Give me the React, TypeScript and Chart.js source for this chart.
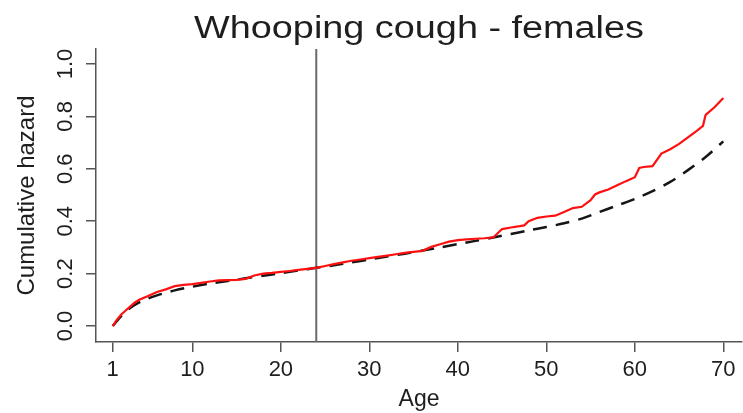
import React, { useEffect, useRef } from "react";
import { Chart, registerables } from "chart.js";

Chart.register(...registerables);

const chartTitle = "Whooping cough - females";
const xTitle = "Age";
const yTitle = "Cumulative hazard";
const xTicks = [1, 10, 20, 30, 40, 50, 60, 70];
const yTicks = [0, 0.2, 0.4, 0.6, 0.8, 1.0];
const cutoffAge = 24;

// Observed (Nelson-Aalen style) cumulative hazard - red
const observedAges = [
  1, 1.5, 2, 2.5, 3, 3.5, 4, 5, 6, 7, 8, 9, 10, 11, 12, 13, 14, 15, 16, 17, 18, 19, 20,
  21, 22, 23, 24, 25, 26, 27, 28, 29, 30, 31, 32, 33, 34, 35, 36, 37, 38, 39, 40, 41, 42,
  43, 44, 45, 46, 47, 47.5, 48, 49, 50, 51, 52, 53, 54, 55, 55.5, 56, 57, 58, 59, 60,
  60.5, 61, 62, 63, 64, 65, 66, 67, 67.7, 68, 69, 70,
];
const observedHazard = [
  0.0, 0.025, 0.045, 0.06, 0.075, 0.09, 0.1, 0.115, 0.13, 0.14, 0.152, 0.157, 0.16, 0.165,
  0.17, 0.174, 0.175, 0.176, 0.18, 0.193, 0.2, 0.203, 0.207, 0.21, 0.214, 0.218, 0.222,
  0.229, 0.236, 0.243, 0.249, 0.254, 0.259, 0.264, 0.269, 0.274, 0.279, 0.283, 0.287,
  0.302, 0.312, 0.322, 0.328, 0.331, 0.333, 0.335, 0.338, 0.37, 0.376, 0.381, 0.384, 0.4,
  0.413, 0.418, 0.421, 0.435, 0.45, 0.455, 0.48, 0.502, 0.51, 0.521, 0.537, 0.553, 0.568,
  0.603, 0.607, 0.61, 0.658, 0.675, 0.695, 0.72, 0.745, 0.764, 0.806, 0.835, 0.87,
];

// Fitted (smooth) cumulative hazard - black dashed
const fittedAges = [
  1, 2, 3, 4, 5, 6, 7, 8, 10, 12, 14, 16, 18, 20, 22, 24, 26, 28, 30, 32, 34, 36, 38, 40,
  42, 44, 46, 48, 50, 52, 54, 56, 58, 60, 62, 64, 66, 68, 70,
];
const fittedHazard = [
  0.0, 0.04, 0.07, 0.09, 0.105, 0.117, 0.127, 0.136, 0.15, 0.162, 0.172, 0.182, 0.192,
  0.202, 0.212, 0.222, 0.232, 0.243, 0.254, 0.265, 0.276, 0.288, 0.3, 0.313, 0.325, 0.338,
  0.351, 0.365, 0.378, 0.392, 0.41, 0.435, 0.46, 0.485, 0.515, 0.55, 0.595, 0.645, 0.705,
];

const FONT = '"Liberation Sans", Arial, Helvetica, sans-serif';
const TEXT = "#1e1e1e";
const AXIS = "#555555";

export default function App() {
  const canvasRef = useRef<HTMLCanvasElement | null>(null);

  useEffect(() => {
    const canvas = canvasRef.current;
    if (!canvas) return;

    const cutoffPlugin = {
      id: "cutoffLine",
      beforeDatasetsDraw(chart: any) {
        const { ctx, chartArea } = chart;
        const x = chart.scales.x.getPixelForValue(cutoffAge);
        ctx.save();
        ctx.strokeStyle = "#6a6a6a";
        ctx.lineWidth = 2;
        ctx.beginPath();
        ctx.moveTo(x, chartArea.top);
        ctx.lineTo(x, chartArea.bottom);
        ctx.stroke();
        ctx.restore();
      },
    };

    const titlePlugin = {
      id: "centeredTitle",
      afterDraw(chart: any) {
        const { ctx, chartArea } = chart;
        const cx = (chartArea.left + chartArea.right) / 2;
        ctx.save();
        ctx.fillStyle = TEXT;
        ctx.font = `31px ${FONT}`;
        ctx.textAlign = "center";
        ctx.textBaseline = "alphabetic";
        ctx.translate(cx, 38);
        ctx.scale(1.22, 1);
        ctx.fillText(chartTitle, 0, 0);
        ctx.restore();
      },
    };

    const chart = new Chart(canvas, {
      type: "line",
      data: {
        datasets: [
          {
            label: "Observed",
            data: observedAges.map((a, i) => ({ x: a, y: observedHazard[i] })),
            borderColor: "#ff1010",
            borderWidth: 2.2,
            pointRadius: 0,
            tension: 0,
            fill: false,
          },
          {
            label: "Fitted",
            data: fittedAges.map((a, i) => ({ x: a, y: fittedHazard[i] })),
            borderColor: "#151515",
            borderWidth: 2.5,
            borderDash: [14, 9],
            pointRadius: 0,
            tension: 0.3,
            fill: false,
          },
        ],
      },
      options: {
        animation: false,
        responsive: false,
        devicePixelRatio: 1,
        layout: { padding: { top: 49, right: 1, bottom: 0, left: 0 } },
        plugins: {
          legend: { display: false },
          tooltip: { enabled: false },
          title: { display: false },
        },
        scales: {
          x: {
            type: "linear",
            min: -0.89,
            max: 72.11,
            afterBuildTicks: (s: any) => {
              s.ticks = xTicks.map((v) => ({ value: v }));
            },
            afterFit: (s: any) => {
              s.height = 71;
            },
            grid: {
              display: true,
              drawOnChartArea: false,
              drawTicks: true,
              tickLength: 10,
              color: AXIS,
              lineWidth: 1.5,
            },
            border: { display: true, color: AXIS, width: 1.5 },
            ticks: {
              autoSkip: false,
              maxRotation: 0,
              padding: 5,
              color: TEXT,
              font: { family: FONT, size: 22 },
              callback: (v: any) => String(v),
            },
            title: {
              display: true,
              text: xTitle,
              color: TEXT,
              font: { family: FONT, size: 23 },
              padding: { top: 0, bottom: 0 },
            },
          },
          y: {
            type: "linear",
            min: -0.061,
            max: 1.0573,
            afterBuildTicks: (s: any) => {
              s.ticks = yTicks.map((v) => ({ value: v }));
            },
            afterFit: (s: any) => {
              s.width = 96;
            },
            grid: {
              display: true,
              drawOnChartArea: false,
              drawTicks: true,
              tickLength: 10,
              color: AXIS,
              lineWidth: 1.5,
            },
            border: { display: true, color: AXIS, width: 1.5 },
            ticks: {
              autoSkip: false,
              minRotation: 90,
              maxRotation: 90,
              crossAlign: "center",
              padding: 5,
              color: TEXT,
              font: { family: FONT, size: 22 },
              callback: (v: any) => Number(v).toFixed(1),
            },
            title: {
              display: true,
              text: yTitle,
              color: TEXT,
              font: { family: FONT, size: 24 },
              padding: { top: 13, bottom: 0 },
            },
          },
        },
      },
      plugins: [cutoffPlugin, titlePlugin],
    } as any);

    return () => chart.destroy();
  }, []);

  return (
    <div
      style={{
        position: "fixed",
        left: 0,
        top: 0,
        width: 743,
        height: 413,
        background: "#ffffff",
      }}
    >
      <canvas ref={canvasRef} width={743} height={413} style={{ width: 743, height: 413 }} />
    </div>
  );
}
